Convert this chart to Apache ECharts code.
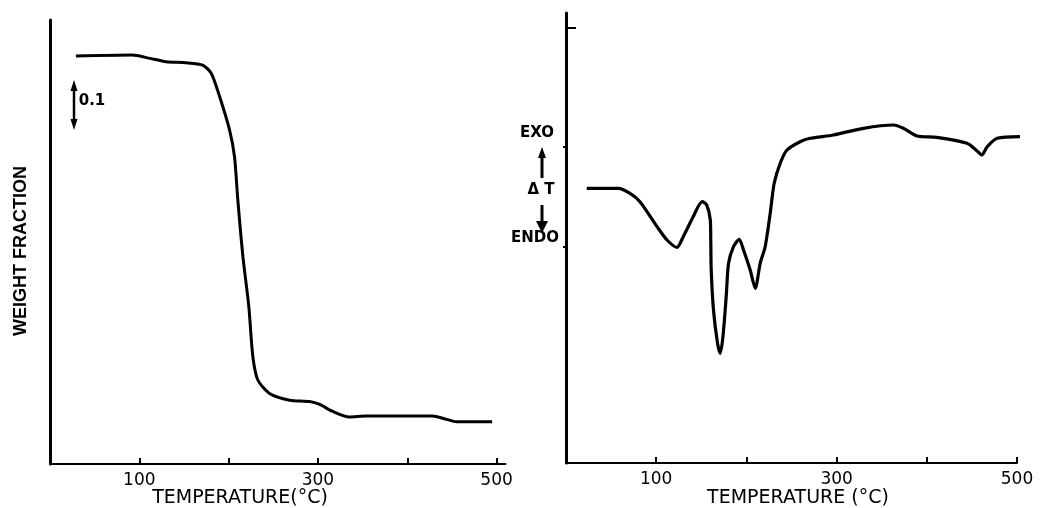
<!DOCTYPE html>
<html><head><meta charset="utf-8">
<script src="https://cdn.jsdelivr.net/npm/echarts@6/dist/echarts.min.js"></script>
<style>html,body{margin:0;padding:0;background:#fff}#c{width:1044px;height:508px}</style>
</head><body><div id="c"></div>
<script>
// TGA curve (left panel): temperature (°C) and weight fraction
const tgaTemp   = [29, 92, 112, 130, 152, 171, 180.5, 190, 201, 206.6, 210.3, 216, 222.6, 227.1, 232.7, 245.8, 268.2, 290.6, 302, 316, 335, 354, 428, 444, 455, 495];
const tgaWeight = [1.0, 1.002, 0.995, 0.988, 0.986, 0.981, 0.964, 0.915, 0.846, 0.790, 0.700, 0.582, 0.478, 0.374, 0.325, 0.297, 0.283, 0.280, 0.274, 0.260, 0.248, 0.250, 0.250, 0.243, 0.238, 0.238];
// DTA curve (right panel): temperature (°C) and ΔT (arbitrary units)
const dtaTemp  = [23, 58, 71, 82, 101, 112, 123, 130, 141, 151, 156, 160, 160.5, 161, 163.5, 168, 171, 174, 177.6, 180.2, 185.7, 192, 196.8, 204.2, 209.8, 215.3, 220.8, 226.4, 230.8, 237.5, 245, 259.6, 270.7, 296.6, 329.8, 363, 374, 389, 411, 444.5, 455.5, 461, 467, 478, 505];
const dtaDelta = [27.47, 27.47, 26.97, 26.13, 23.63, 22.3, 21.57, 22.63, 24.63, 26.13, 25.8, 24.3, 22.3, 19.3, 15.3, 11.97, 10.97, 12.63, 16.63, 19.97, 21.63, 22.37, 21.3, 19.3, 17.47, 19.97, 21.63, 24.97, 27.97, 29.97, 31.3, 32.13, 32.47, 32.8, 33.47, 33.8, 33.47, 32.7, 32.57, 31.97, 31.23, 30.8, 31.63, 32.47, 32.63];
// Axis ticks and labels
const xTickValues  = [100, 200, 300, 400, 500];
const xLabelValues = [100, 300, 500];
const dtaTopTick   = [43.5];
const dtaMarkTicks = [31.6, 21.6];

const tgaData = tgaTemp.map((t, i) => [t, tgaWeight[i]]);
const dtaData = dtaTemp.map((t, i) => [t, dtaDelta[i]]);

const labelFont = 'DejaVu Sans';
const chart = echarts.init(document.getElementById('c'));

function xAx(grid, max) {
  return {
    type: 'value', gridIndex: grid, min: 0, max: max, position: 'bottom',
    axisLine: { show: true, onZero: false, lineStyle: { color: '#000', width: 2 } },
    axisTick: { show: true, inside: true, length: 6, customValues: xTickValues, lineStyle: { color: '#000', width: 2 } },
    axisLabel: { show: true, customValues: xLabelValues, margin: 8, fontSize: 17, color: '#000', fontFamily: labelFont },
    splitLine: { show: false }
  };
}

chart.setOption({
  animation: false,
  backgroundColor: '#fff',
  grid: [
    { left: 50, top: 20, width: 455.5, height: 444, containLabel: false },
    { left: 566, top: 13, width: 451, height: 450, containLabel: false }
  ],
  xAxis: [xAx(0, 510), xAx(1, 500)],
  yAxis: [
    { type: 'value', gridIndex: 0, min: 0.15, max: 1.075, position: 'left',
      axisLine: { show: true, onZero: false, lineStyle: { color: '#000', width: 3 } },
      axisTick: { show: false }, axisLabel: { show: false }, splitLine: { show: false } },
    { type: 'value', gridIndex: 1, min: 0, max: 45, position: 'left',
      axisLine: { show: true, onZero: false, lineStyle: { color: '#000', width: 3 } },
      axisTick: { show: true, inside: true, length: 10, customValues: dtaTopTick, lineStyle: { color: '#000', width: 2 } },
      axisLabel: { show: false }, splitLine: { show: false } },
    { type: 'value', gridIndex: 1, min: 0, max: 45, position: 'left', offset: 0,
      axisLine: { show: false, onZero: false },
      axisTick: { show: true, inside: false, length: 3, customValues: dtaMarkTicks, lineStyle: { color: '#000', width: 2 } },
      axisLabel: { show: false }, splitLine: { show: false } }
  ],
  series: [
    { type: 'line', xAxisIndex: 0, yAxisIndex: 0, data: tgaData, showSymbol: false, smooth: 0.25,
      clip: false, lineStyle: { color: '#000', width: 3 } },
    { type: 'line', xAxisIndex: 1, yAxisIndex: 1, data: dtaData, showSymbol: false, smooth: 0.25,
      clip: false, lineStyle: { color: '#000', width: 3.2 } }
  ],
  graphic: [
    // axis titles
    { type: 'text', x: 21, y: 251, rotation: Math.PI / 2,
      style: { text: 'WEIGHT FRACTION', font: 'bold 18px "Liberation Sans"', fill: '#000', align: 'center', verticalAlign: 'middle', textAlign: 'center', textVerticalAlign: 'middle' } },
    { type: 'text', x: 240, y: 498,
      style: { text: 'TEMPERATURE(°C)', font: '19px ' + labelFont, fill: '#000', align: 'center', verticalAlign: 'middle', textAlign: 'center', textVerticalAlign: 'middle' } },
    { type: 'text', x: 798, y: 498,
      style: { text: 'TEMPERATURE (°C)', font: '19px ' + labelFont, fill: '#000', align: 'center', verticalAlign: 'middle', textAlign: 'center', textVerticalAlign: 'middle' } },
    // 0.1 scale bar on the TGA panel
    { type: 'line', shape: { x1: 74, y1: 88, x2: 74, y2: 122 }, style: { stroke: '#000', lineWidth: 2.5 } },
    { type: 'polygon', shape: { points: [[74, 80], [70.5, 91], [77.5, 91]] }, style: { fill: '#000' } },
    { type: 'polygon', shape: { points: [[74, 130], [70.5, 119], [77.5, 119]] }, style: { fill: '#000' } },
    { type: 'text', x: 92, y: 101,
      style: { text: '0.1', font: 'bold 15px ' + labelFont, fill: '#000', align: 'center', verticalAlign: 'middle', textAlign: 'center', textVerticalAlign: 'middle' } },
    // EXO / ΔT / ENDO on the DTA panel
    { type: 'text', x: 537, y: 133,
      style: { text: 'EXO', font: 'bold 15px ' + labelFont, fill: '#000', align: 'center', verticalAlign: 'middle', textAlign: 'center', textVerticalAlign: 'middle' } },
    { type: 'text', x: 541, y: 190,
      style: { text: 'Δ T', font: 'bold 15px ' + labelFont, fill: '#000', align: 'center', verticalAlign: 'middle', textAlign: 'center', textVerticalAlign: 'middle' } },
    { type: 'text', x: 535, y: 238,
      style: { text: 'ENDO', font: 'bold 15px ' + labelFont, fill: '#000', align: 'center', verticalAlign: 'middle', textAlign: 'center', textVerticalAlign: 'middle' } },
    { type: 'line', shape: { x1: 542, y1: 156, x2: 542, y2: 178 }, style: { stroke: '#000', lineWidth: 3 } },
    { type: 'polygon', shape: { points: [[542, 147], [538, 158], [546, 158]] }, style: { fill: '#000' } },
    { type: 'line', shape: { x1: 542, y1: 205, x2: 542, y2: 224 }, style: { stroke: '#000', lineWidth: 3 } },
    { type: 'polygon', shape: { points: [[542, 233], [536, 221], [548, 221]] }, style: { fill: '#000' } }
  ]
});
</script>
</body></html>
